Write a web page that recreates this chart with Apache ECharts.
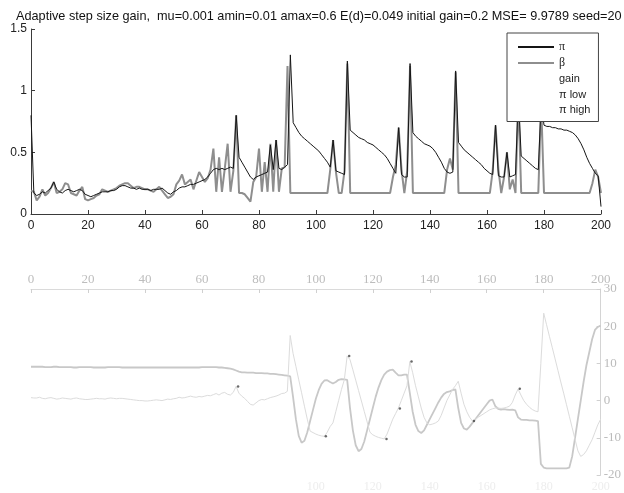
<!DOCTYPE html>
<html>
<head>
<meta charset="utf-8">
<title>Adaptive step size gain</title>
<script src="https://cdn.jsdelivr.net/npm/echarts@6/dist/echarts.min.js"></script>
<style>
  html, body { margin: 0; padding: 0; background: #fff; }
  #chart { width: 624px; height: 493px; }
</style>
</head>
<body>
<div id="chart"></div>
<script>
// Upper panel: pi (estimate) and beta over 200 steps
const pi = [
  0.80, 0.17, 0.15, 0.16, 0.18, 0.17, 0.19, 0.21, 0.26, 0.20,
  0.18, 0.17, 0.19, 0.20, 0.19, 0.18, 0.19, 0.20, 0.19, 0.16,
  0.15, 0.14, 0.15, 0.16, 0.17, 0.18, 0.18, 0.18, 0.19, 0.19,
  0.20, 0.22, 0.23, 0.23, 0.22, 0.21, 0.21, 0.20, 0.21, 0.20,
  0.20, 0.20, 0.19, 0.20, 0.20, 0.20, 0.21, 0.19, 0.17, 0.16,
  0.18, 0.19, 0.21, 0.22, 0.22, 0.23, 0.24, 0.24, 0.25, 0.26,
  0.27, 0.28, 0.30, 0.33, 0.36, 0.37, 0.36, 0.37, 0.36, 0.37,
  0.38, 0.37, 0.80, 0.46, 0.42, 0.38, 0.34, 0.30, 0.28, 0.30,
  0.31, 0.32, 0.33, 0.34, 0.56, 0.36, 0.60, 0.37, 0.36, 0.38,
  0.40, 1.29, 0.74, 0.70, 0.66, 0.63, 0.61, 0.59, 0.57, 0.55,
  0.53, 0.51, 0.48, 0.45, 0.42, 0.38, 0.60, 0.35, 0.34, 0.33,
  0.32, 1.24, 0.68, 0.66, 0.64, 0.62, 0.61, 0.60, 0.58, 0.57,
  0.56, 0.54, 0.52, 0.50, 0.48, 0.45, 0.41, 0.37, 0.33, 0.70,
  0.32, 0.30, 0.30, 1.22, 0.66, 0.63, 0.61, 0.59, 0.57, 0.56,
  0.55, 0.53, 0.50, 0.46, 0.42, 0.37, 0.34, 0.33, 0.34, 1.16,
  0.58, 0.55, 0.52, 0.50, 0.48, 0.46, 0.44, 0.42, 0.40, 0.37,
  0.35, 0.33, 0.32, 0.72, 0.31, 0.30, 0.30, 0.50, 0.30, 0.31,
  0.32, 0.96, 0.47, 0.45, 0.43, 0.41, 0.39, 0.37, 0.36, 0.90,
  0.72, 0.71, 0.71, 0.70, 0.70, 0.69, 0.69, 0.68, 0.68, 0.67,
  0.66, 0.64, 0.61, 0.57, 0.52, 0.46, 0.41, 0.37, 0.33, 0.31,
  0.06
];
const beta = [
  0.19, 0.18, 0.11, 0.14, 0.20, 0.15, 0.17, 0.21, 0.26, 0.17,
  0.18, 0.20, 0.25, 0.24, 0.17, 0.16, 0.15, 0.19, 0.22, 0.12,
  0.11, 0.12, 0.13, 0.15, 0.16, 0.20, 0.19, 0.18, 0.19, 0.20,
  0.21, 0.23, 0.24, 0.25, 0.25, 0.23, 0.21, 0.22, 0.22, 0.21,
  0.20, 0.20, 0.19, 0.18, 0.20, 0.22, 0.19, 0.16, 0.13, 0.14,
  0.16, 0.24, 0.27, 0.32, 0.24, 0.26, 0.28, 0.20, 0.27, 0.34,
  0.30, 0.26, 0.29, 0.36, 0.53, 0.18, 0.46, 0.18, 0.37, 0.57,
  0.18, 0.35, 0.80, 0.17, 0.17, 0.16, 0.13, 0.10, 0.26, 0.30,
  0.53, 0.18, 0.42, 0.18, 0.57, 0.18, 0.60, 0.18, 0.37, 0.38,
  1.20, 0.17, 0.17, 0.17, 0.17, 0.17, 0.17, 0.17, 0.17, 0.17,
  0.17, 0.17, 0.17, 0.17, 0.17, 0.36, 0.60, 0.34, 0.17, 0.17,
  0.35, 1.22, 0.17, 0.17, 0.17, 0.17, 0.17, 0.17, 0.17, 0.17,
  0.17, 0.17, 0.17, 0.17, 0.17, 0.17, 0.17, 0.30, 0.40, 0.70,
  0.36, 0.17, 0.35, 1.20, 0.17, 0.17, 0.17, 0.17, 0.17, 0.17,
  0.17, 0.17, 0.17, 0.17, 0.17, 0.17, 0.36, 0.45, 0.36, 1.15,
  0.17, 0.17, 0.17, 0.17, 0.17, 0.17, 0.17, 0.17, 0.17, 0.17,
  0.17, 0.17, 0.35, 0.72, 0.36, 0.17, 0.30, 0.50, 0.20, 0.28,
  0.17, 0.95, 0.17, 0.17, 0.17, 0.17, 0.17, 0.17, 0.17, 0.90,
  0.17, 0.17, 0.17, 0.17, 0.17, 0.17, 0.17, 0.17, 0.17, 0.17,
  0.17, 0.17, 0.17, 0.17, 0.17, 0.17, 0.17, 0.25, 0.36, 0.30,
  0.17
];

// Lower panel: gain and pi bounds (right-hand scale)
const gain = [
  9.1, 9.1, 9.1, 9.1, 9.1, 9.0, 9.0, 9.0, 9.1, 9.1,
  9.0, 9.0, 9.0, 9.0, 9.0, 8.9, 8.9, 9.0, 9.0, 9.0,
  9.0, 9.0, 8.9, 8.9, 8.9, 8.9, 8.9, 9.0, 9.0, 9.0,
  9.0, 9.0, 8.9, 8.9, 8.9, 8.9, 8.9, 8.9, 8.9, 8.9,
  8.9, 8.9, 8.9, 8.9, 8.9, 8.9, 8.9, 8.9, 8.9, 8.9,
  8.9, 8.9, 8.9, 8.9, 8.9, 8.9, 8.9, 8.9, 8.9, 8.9,
  9.0, 9.0, 9.0, 9.0, 9.0, 9.0, 8.9, 8.9, 8.8, 8.7,
  8.6, 8.4, 8.1, 7.8, 7.6, 7.6, 7.5, 7.5, 7.5, 7.4,
  7.4, 7.4, 7.3, 7.3, 7.2, 7.2, 7.1, 7.0, 6.9, 6.8,
  6.7, 6.5, 1.0, -5.0, -9.5, -11.3, -10.8, -8.5, -5.5, -2.5,
  0.5, 2.8, 4.5, 5.4, 5.5, 5.0, 4.6, 5.0, 5.6, 5.8,
  5.7, 5.6, -2.0, -8.0, -12.0, -13.6, -13.0, -11.0, -8.0, -5.0,
  -2.0, 1.0, 3.5, 5.5, 7.0, 7.8, 8.2, 8.3, 7.5, 6.8,
  6.8, 7.0, 7.0, 2.0, -3.0, -6.5, -8.2, -8.7, -8.0, -6.5,
  -5.0, -3.5, -2.0, -0.5, 0.8, 1.8, 2.3, 2.5, 2.8, 3.0,
  -2.0, -6.0, -7.5, -7.8, -7.0, -6.0, -5.0, -4.0, -3.0, -2.0,
  -1.0, 0.0, 0.3, -1.5, -2.2, -2.4, -2.3, -2.4, -2.5, -2.4,
  -2.6, -4.5, -5.1, -5.2, -5.2, -5.3, -5.3, -5.4, -5.5, -17.0,
  -18.0, -18.2, -18.2, -18.2, -18.2, -18.2, -18.2, -18.2, -18.2, -18.0,
  -15.0, -10.0, -5.0, 0.0, 5.0, 9.5, 13.0, 16.5, 19.0, 19.8,
  20.2
];
const piLow = [
  0.8, 0.7, 0.7, 0.9, 0.6, 0.5, 0.7, 0.8, 0.6, 0.4,
  0.5, 0.7, 0.6, 0.5, 0.4, 0.6, 0.7, 0.5, 0.4, 0.3,
  0.3, 0.4, 0.5, 0.6, 0.5, 0.5, 0.4, 0.6, 0.7, 0.6,
  0.5, 0.6, 0.6, 0.5, 0.4, 0.3, 0.2, 0.1, 0.0, 0.0,
  -0.1, -0.1, 0.0, 0.1, 0.2, 0.1, 0.0, 0.2, 0.4, 0.3,
  0.5, 0.6, 0.9, 0.7, 0.8, 1.0, 1.2, 1.0, 0.9, 1.1,
  1.0, 1.2, 1.4, 1.3, 1.6, 1.9, 1.5, 2.0, 2.2, 1.7,
  1.5, 2.2, 3.8, 2.0, 1.2, 0.6, -0.2, -1.0, -1.2, -0.6,
  0.0, 0.3, 0.2, 0.5, 0.8, 1.0, 1.2, 1.5, 1.9, 2.0,
  2.5, 17.5, 12.7, 9.2, 5.6, 2.1, -1.5, -5.0, -8.2, -8.6,
  -9.0, -9.3, -9.5, -9.6, -8.5, -7.0, -6.0, -3.0, 0.0, 3.0,
  5.6, 12.0, 11.0, 8.3, 5.5, 2.7, -0.1, -2.9, -5.7, -8.5,
  -9.2, -9.6, -9.9, -10.1, -10.3, -9.0, -7.0, -5.0, -3.5, -2.0,
  0.0, 2.0, 4.0, 10.5, 7.5, 4.0, 1.0, -2.0, -4.5, -6.0,
  -6.5, -6.3, -6.0, -5.5, -4.0, -2.0, 0.0, 1.5, 3.0, 4.0,
  5.2, 2.0, -1.0, -3.0, -4.5, -5.5, -5.0, -4.5, -4.0, -3.5,
  -3.0, -2.5, -2.2, -2.0, -2.0, -2.1, -2.0, -1.8, -1.5, -0.5,
  1.5, 3.1, 1.5, 0.0, -1.0, -1.8, -2.4, -2.8, -3.0, 10.0,
  23.5, 20.4, 17.3, 14.3, 11.2, 8.1, 5.0, 2.0, -1.1, -4.2,
  -7.3, -10.4, -13.5, -15.0, -14.5, -13.5, -12.0, -10.5, -8.5, -6.5,
  -5.0
];
// isolated marker points (step, value)
const piHighSteps = [72.7, 103.5, 111.7, 124.8, 129.5, 133.6, 155.5, 171.6];
const piHighValues = [3.8, -9.6, 12.0, -10.3, -2.1, 10.5, -5.5, 3.2];

// axis tick labels
const stepTicks = [0, 20, 40, 60, 80, 100, 120, 140, 160, 180, 200];
const upperTicks = [0, 0.5, 1, 1.5];
const lowerTicks = [-20, -10, 0, 10, 20, 30];

const titleText = 'Adaptive step size gain,  mu=0.001 amin=0.01 amax=0.6 E(d)=0.049 initial gain=0.2 MSE= 9.9789 seed=20';

const pairs = arr => arr.map((v, i) => [i, v]);

const chart = echarts.init(document.getElementById('chart'), null, { renderer: 'canvas' });

const dark = '#3a3a3a';
const sans = 'Liberation Sans, Arial, sans-serif';
const serif = 'Liberation Serif, serif';

chart.setOption({
  animation: false,
  backgroundColor: '#ffffff',
  title: {
    text: titleText,
    left: 11,
    top: 5,
    textStyle: { fontFamily: sans, fontSize: 12.7, fontWeight: 'normal', color: '#111' }
  },
  legend: {
    orient: 'vertical',
    left: 507,
    top: 33,
    padding: [8, 8, 6, 10],
    itemWidth: 36,
    itemHeight: 12,
    itemGap: 4,
    backgroundColor: '#ffffff',
    borderColor: '#444',
    borderWidth: 1,
    borderRadius: 0,
    selectedMode: false,
    z: 10,
    textStyle: { fontFamily: sans, fontSize: 11, color: '#222' },
    data: [
      { name: 'π', itemStyle: { opacity: 0 }, textStyle: { fontFamily: serif, fontSize: 12 } },
      { name: 'β', itemStyle: { opacity: 0 }, textStyle: { fontFamily: serif, fontSize: 12 } },
      { name: 'gain', icon: 'none' },
      { name: 'π low', icon: 'none' },
      { name: 'π high', icon: 'none' }
    ]
  },
  grid: [
    { left: 31, top: 29, width: 570, height: 185 },
    { left: 31, top: 289, width: 570, height: 186 }
  ],
  xAxis: [
    {
      type: 'value', gridIndex: 0, min: 0, max: 200, interval: 20,
      axisLine: { onZero: false, lineStyle: { color: dark, width: 1 } },
      axisTick: { inside: true, length: 4, lineStyle: { color: dark } },
      axisLabel: {
        margin: 6, color: '#222', fontSize: 12, fontFamily: sans,
        formatter: v => (stepTicks.includes(v) ? String(v) : '')
      },
      splitLine: { show: false }
    },
    {
      type: 'value', gridIndex: 1, position: 'top', min: 0, max: 200, interval: 20,
      axisLine: { onZero: false, lineStyle: { color: '#dadada', width: 1 } },
      axisTick: { inside: true, length: 4, lineStyle: { color: '#d0d0d0' } },
      axisLabel: {
        margin: 3, color: '#bdbdbd', fontSize: 13, fontFamily: serif,
        formatter: v => (stepTicks.includes(v) ? String(v) : '')
      },
      splitLine: { show: false }
    },
    {
      type: 'value', gridIndex: 1, position: 'bottom', min: 0, max: 200, interval: 20,
      axisLine: { show: false, onZero: false },
      axisTick: { show: false },
      axisLabel: {
        margin: 6, color: '#ededed', fontSize: 12, fontFamily: serif,
        formatter: v => (v >= 100 ? String(v) : '')
      },
      splitLine: { show: false }
    }
  ],
  yAxis: [
    {
      type: 'value', gridIndex: 0, min: 0, max: 1.5, interval: 0.5,
      axisLine: { show: true, onZero: false, lineStyle: { color: dark, width: 1 } },
      axisTick: { show: true, inside: true, length: 4, lineStyle: { color: dark } },
      axisLabel: {
        margin: 4, color: '#222', fontSize: 12, fontFamily: sans,
        formatter: v => (upperTicks.includes(v) ? String(v) : '')
      },
      splitLine: { show: false }
    },
    {
      type: 'value', gridIndex: 1, position: 'right', min: -20, max: 30, interval: 10,
      axisLine: { show: true, onZero: false, lineStyle: { color: '#d4d4d4', width: 1 } },
      axisTick: { show: true, inside: true, length: 4, lineStyle: { color: '#d0d0d0' } },
      axisLabel: {
        margin: 3, color: '#bbbbbb', fontSize: 13, fontFamily: serif,
        formatter: v => (lowerTicks.includes(v) ? String(v) : '')
      },
      splitLine: { show: false }
    }
  ],
  series: [
    {
      name: 'β', type: 'line', xAxisIndex: 0, yAxisIndex: 0,
      data: pairs(beta), symbol: 'none', z: 2,
      lineStyle: { color: '#8e8e8e', width: 2 }, itemStyle: { color: '#8e8e8e' }
    },
    {
      name: 'π', type: 'line', xAxisIndex: 0, yAxisIndex: 0,
      data: pairs(pi), symbol: 'none', z: 3,
      lineStyle: { color: '#151515', width: 1 }, itemStyle: { color: '#151515' }
    },
    {
      name: 'gain', type: 'line', xAxisIndex: 1, yAxisIndex: 1,
      data: pairs(gain), symbol: 'none', z: 2,
      lineStyle: { color: '#c8c8c8', width: 1.8 }, itemStyle: { color: '#c8c8c8' }
    },
    {
      name: 'π low', type: 'line', xAxisIndex: 1, yAxisIndex: 1,
      data: pairs(piLow), symbol: 'none', z: 2,
      lineStyle: { color: '#dcdcdc', width: 1 }, itemStyle: { color: '#dcdcdc' }
    },
    {
      name: 'π high', type: 'scatter', xAxisIndex: 1, yAxisIndex: 1,
      data: piHighSteps.map((s, i) => [s, piHighValues[i]]),
      symbol: 'circle', symbolSize: 2.5, z: 3,
      itemStyle: { color: '#444' }
    }
  ]
});
</script>
</body>
</html>
